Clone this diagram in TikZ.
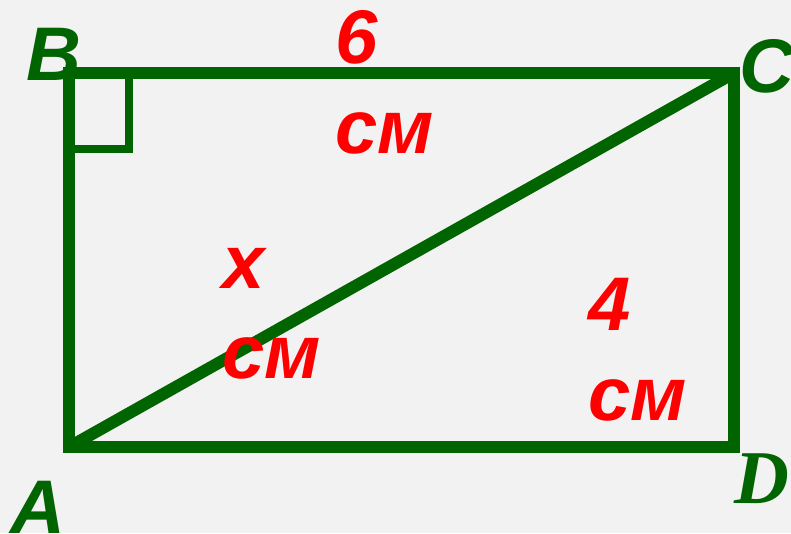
\documentclass[tikz,border=0pt]{standalone}
\usepackage{fontspec}
\setmainfont{Liberation Sans}
\newfontfamily\serifbi{Liberation Serif}
\definecolor{dgreen}{RGB}{0,100,0}
\definecolor{bgc}{RGB}{242,242,242}
\begin{document}
\begin{tikzpicture}[x=0.75pt,y=-0.75pt,
  side/.style={draw=dgreen,line width=9pt},
  rightmark/.style={draw=dgreen,line width=6pt},
  lbl/.style={text=red,font=\fontsize{57}{67.5}\selectfont\bfseries\itshape,align=left,inner sep=0pt,anchor=north west},
  vlbl/.style={text=dgreen,font=\fontsize{57}{67.5}\selectfont\bfseries\itshape,inner sep=0pt,anchor=base}]
\fill[bgc] (0,0) rectangle (791,533);
\useasboundingbox (0,0) rectangle (791,533);
\coordinate (A) at (69,447);
\coordinate (B) at (69,73);
\coordinate (C) at (734,73);
\coordinate (D) at (734,447);
\coordinate (R1) at (129,73);
\coordinate (R2) at (129,149);
\coordinate (R3) at (69,149);
\draw[side] (A) -- (B) -- (C) -- (D) -- cycle;
\draw[side] (A) -- (C);
\draw[rightmark] (R1) -- (R2) -- (R3);
\node[vlbl] (lB) at (54,80) {B};
\node[vlbl] (lC) at (767,92) {C};
\node[vlbl] (lA) at (38,533) {A};
\node[vlbl,font=\fontsize{57}{67.5}\selectfont\serifbi\bfseries\itshape] (lD) at (762,503) {D};
\node[lbl] (t6) at (335,10) {6\\см};
\node[lbl] (tx) at (222,248) {x\\см};
\node[lbl] (t4) at (588,278) {4\\см};
\end{tikzpicture}
\end{document}
